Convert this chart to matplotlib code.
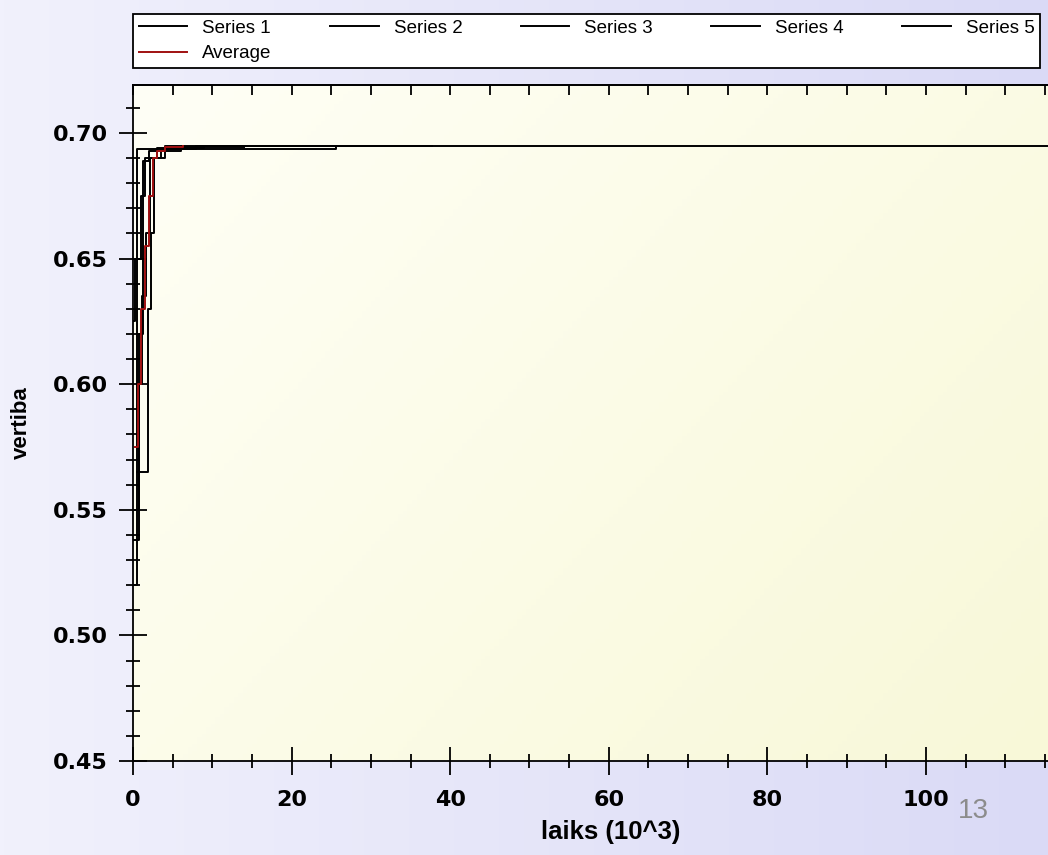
import numpy as np
import matplotlib
matplotlib.use("Agg")
import matplotlib.pyplot as plt
from matplotlib.ticker import MultipleLocator, FormatStrFormatter
from matplotlib.colors import LinearSegmentedColormap

# step series (x in 10^3)
s1_x = [0, 0.55, 3.0, 9.0, 120]
s1_y = [0.520, 0.6935, 0.694, 0.695, 0.695]
s2_x = [0, 0.75, 1.3, 2.0, 6.0, 14.0]
s2_y = [0.538, 0.620, 0.689, 0.693, 0.6945, 0.6945]
s3_x = [0.5, 1.9, 2.3, 2.6, 3.5, 25.6]
s3_y = [0.565, 0.630, 0.660, 0.690, 0.6935, 0.695]
s4_x = [0, 0.8, 1.1, 1.6, 2.2, 4.0, 37.7]
s4_y = [0.550, 0.600, 0.635, 0.660, 0.690, 0.695, 0.695]
s5_x = [0, 0.3, 1.0, 1.5, 3.0, 8.0, 12.0]
s5_y = [0.625, 0.650, 0.675, 0.690, 0.6935, 0.695, 0.695]
avg_x = [0.3, 0.6, 1.0, 1.5, 2.0, 2.5, 3.0, 4.0, 6.3]
avg_y = [0.575, 0.600, 0.630, 0.655, 0.675, 0.690, 0.693, 0.6945, 0.695]

series = [(s1_x, s1_y, "Series 1"), (s2_x, s2_y, "Series 2"), (s3_x, s3_y, "Series 3"),
          (s4_x, s4_y, "Series 4"), (s5_x, s5_y, "Series 5")]

fig = plt.figure(figsize=(10.48, 8.55), dpi=100)

# lavender page background
bg = fig.add_axes([0, 0, 1, 1], zorder=-10)
bg_cmap = LinearSegmentedColormap.from_list("bg", ["#f1f1fc", "#dadaf6"])
bg.imshow(np.tile(np.linspace(0, 1, 256), (2, 1)), cmap=bg_cmap, aspect="auto", extent=[0, 1, 0, 1])
bg.axis("off")

ax = fig.add_axes([133 / 1048, 1 - 761 / 855, 1 - 133 / 1048, (761 - 85) / 855])
ax.set_facecolor("none")
ax_cmap = LinearSegmentedColormap.from_list("ax", ["#fffff6", "#f8f8d8"])
gx, gy = np.meshgrid(np.linspace(0, 1, 200), np.linspace(0, 1, 200))
ax.imshow(gx * 0.6 + gy * 0.4, cmap=ax_cmap, aspect="auto", extent=[0, 1, 0, 1],
          transform=ax.transAxes, zorder=0)

handles = []
for xs, ys, name in series:
    h, = ax.plot(xs, ys, drawstyle="steps-post", color="black", lw=1.4, label=name, zorder=3)
    handles.append(h)
h_avg, = ax.plot(avg_x, avg_y, drawstyle="steps-post", color="#a01010", lw=1.4, label="Average", zorder=4)

ax.set_xlim(0, 115.4)
ax.set_ylim(0.45, 0.7191)

ax.xaxis.set_major_locator(MultipleLocator(20))
ax.xaxis.set_minor_locator(MultipleLocator(5))
ax.yaxis.set_major_locator(MultipleLocator(0.05))
ax.yaxis.set_minor_locator(MultipleLocator(0.01))
ax.yaxis.set_major_formatter(FormatStrFormatter("%.2f"))

ax.tick_params(which="major", direction="inout", length=20, width=1.3, labelsize=16)
ax.tick_params(which="minor", direction="inout", length=10, width=1.3)
ax.tick_params(axis="y", which="major", pad=8)
ax.tick_params(axis="x", which="major", pad=11)
for lab in ax.get_xticklabels() + ax.get_yticklabels():
    lab.set_fontweight("bold")

top = ax.secondary_xaxis("top")
top.xaxis.set_major_locator(MultipleLocator(5))
top.tick_params(direction="in", length=7, width=1.3, labeltop=False)
top.spines["top"].set_linewidth(1.3)

for side in ["left", "bottom", "top"]:
    ax.spines[side].set_linewidth(1.3)
ax.spines["right"].set_visible(False)

ax.set_ylabel("vertiba", fontsize=16, fontweight="bold", family="Liberation Sans")
ax.set_xlabel("laiks (10^3)", fontsize=18.5, fontweight="bold", family="Liberation Sans")
ax.yaxis.set_label_coords(-0.110, 0.5)
ax.xaxis.set_label_coords(0.522, -0.088)

leg = fig.legend([handles[0], h_avg] + handles[1:], ["Series 1", "Average", "Series 2", "Series 3", "Series 4", "Series 5"],
                 ncol=5, loc="lower left", mode="expand",
                 bbox_to_anchor=(133 / 1048, 1 - 68 / 855, (1040 - 133) / 1048, 60 / 855),
                 borderaxespad=0, prop={"family": "Liberation Sans", "size": 13.5}, frameon=True, fancybox=False,
                 edgecolor="black", facecolor="white", framealpha=1, borderpad=0.3,
                 handlelength=2.6, handletextpad=0.8, columnspacing=0.6, labelspacing=0.45)
leg.get_frame().set_linewidth(1.3)

fig.text(973 / 1048, 1 - 811 / 855, "13", fontsize=20, color="#8c8c8c", family="Liberation Sans", ha="center", va="center")

fig.savefig("out.png", dpi=100)
